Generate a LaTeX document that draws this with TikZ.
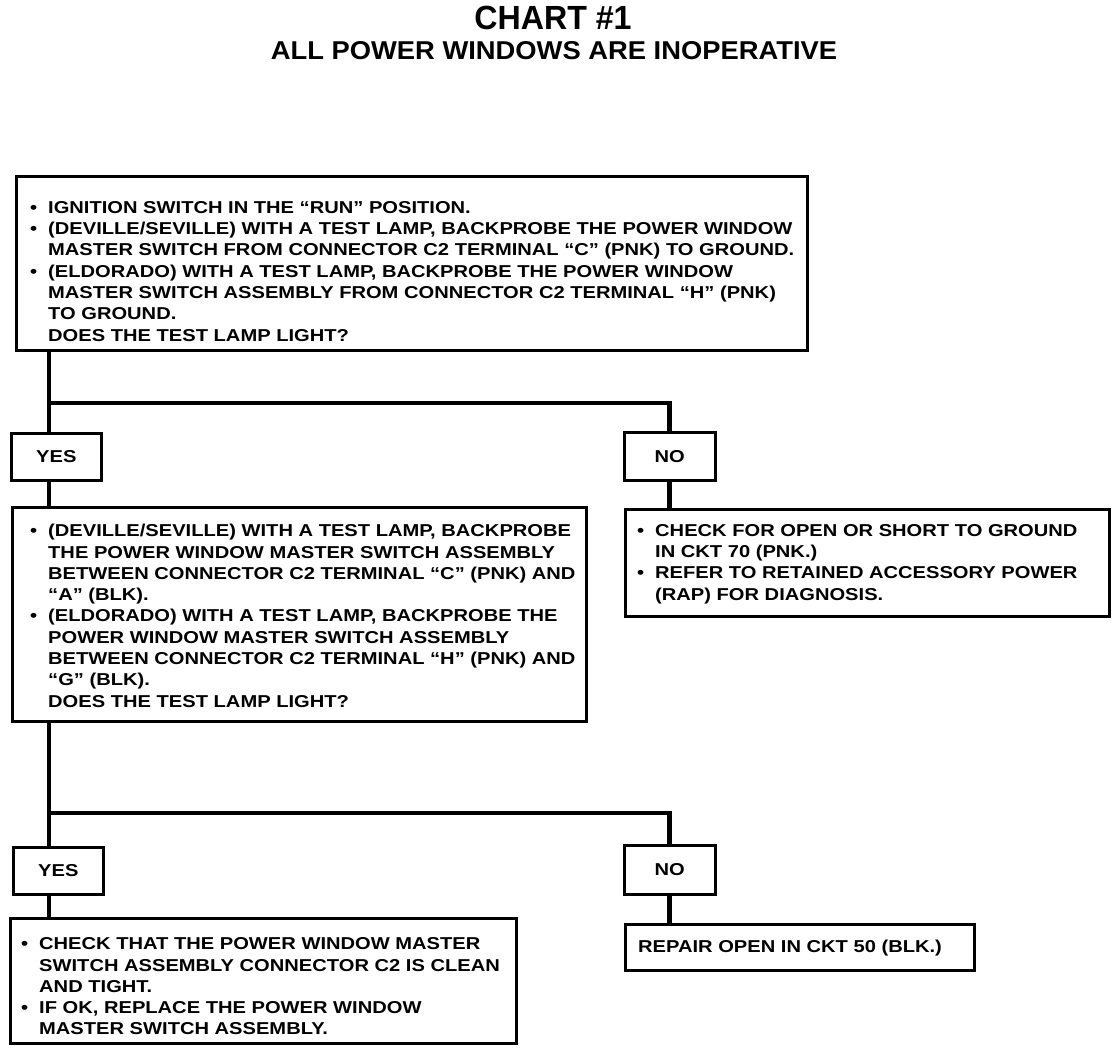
\documentclass[tikz,border=0pt]{standalone}
\usepackage{fontspec}
\newfontfamily\bodyfont{Liberation Sans}[FakeStretch=1.17]
\newfontfamily\titlefont{Liberation Sans}[FakeStretch=0.96]
\newfontfamily\subtitlefont{Liberation Sans}[FakeStretch=1.06]
\newcommand{\bul}{\llap{\makebox[18pt][l]{•}}}
\newcommand{\fs}{\rule{0pt}{15pt}}
\begin{document}
\begin{tikzpicture}[x=1pt,y=-1pt,
  chartbox/.style={draw=black,line width=2.6pt,rectangle,inner sep=0pt,anchor=north west},
  conn/.style={draw=black,line width=4.8pt},
  txt/.style={anchor=north west,inner sep=0pt,align=left,
    font={\bodyfont\bfseries\fontsize{17.2}{21.3}\selectfont}},
  lbl/.style={font={\bodyfont\bfseries\fontsize{17.2}{21.3}\selectfont},inner sep=0pt}]
\useasboundingbox (0,0) rectangle (1120,1052);

% titles
\node[anchor=base,inner sep=0pt,font={\titlefont\bfseries\fontsize{33.5}{36}\selectfont}] (title) at (553,30) {CHART \#1};
\node[anchor=base,inner sep=0pt,font={\subtitlefont\bfseries\fontsize{25.8}{28}\selectfont}] (subtitle) at (554,59) {ALL POWER WINDOWS ARE INOPERATIVE};

% boxes
\node[chartbox,minimum width=791pt,minimum height=174pt] (b1) at (15,175) {};
\node[chartbox,minimum width=90pt,minimum height=47pt] (y1) at (10,432) {};
\node[chartbox,minimum width=91pt,minimum height=48pt] (n1) at (623,431) {};
\node[chartbox,minimum width=574pt,minimum height=214pt] (b2) at (11,506) {};
\node[chartbox,minimum width=484pt,minimum height=107pt] (b3) at (624,508) {};
\node[chartbox,minimum width=90pt,minimum height=47pt] (y2) at (12,846) {};
\node[chartbox,minimum width=91pt,minimum height=49pt] (n2) at (623,844) {};
\node[chartbox,minimum width=506pt,minimum height=125pt] (b4) at (9,917) {};
\node[chartbox,minimum width=349pt,minimum height=46pt] (b5) at (624,923) {};

% labels
\node[lbl] (y1t) at (y1.center) {YES};
\node[lbl] (n1t) at (n1.center) {NO};
\node[lbl] (y2t) at (y2.center) {YES};
\node[lbl] (n2t) at (n2.center) {NO};

% texts
\node[txt] (t1) at (48,198) {\fs\bul IGNITION SWITCH IN THE “RUN” POSITION.\\
\bul (DEVILLE/SEVILLE) WITH A TEST LAMP, BACKPROBE THE POWER WINDOW\\
MASTER SWITCH FROM CONNECTOR C2 TERMINAL “C” (PNK) TO GROUND.\\
\bul (ELDORADO) WITH A TEST LAMP, BACKPROBE THE POWER WINDOW\\
MASTER SWITCH ASSEMBLY FROM CONNECTOR C2 TERMINAL “H” (PNK)\\
TO GROUND.\\
DOES THE TEST LAMP LIGHT?};

\node[txt] (t2) at (48,521.5) {\fs\bul (DEVILLE/SEVILLE) WITH A TEST LAMP, BACKPROBE\\
THE POWER WINDOW MASTER SWITCH ASSEMBLY\\
BETWEEN CONNECTOR C2 TERMINAL “C” (PNK) AND\\
“A” (BLK).\\
\bul (ELDORADO) WITH A TEST LAMP, BACKPROBE THE\\
POWER WINDOW MASTER SWITCH ASSEMBLY\\
BETWEEN CONNECTOR C2 TERMINAL “H” (PNK) AND\\
“G” (BLK).\\
DOES THE TEST LAMP LIGHT?};

\node[txt] (t3) at (655,521) {\fs\bul CHECK FOR OPEN OR SHORT TO GROUND\\
IN CKT 70 (PNK.)\\
\bul REFER TO RETAINED ACCESSORY POWER\\
(RAP) FOR DIAGNOSIS.};

\node[txt] (t4) at (39,934.5) {\fs\bul CHECK THAT THE POWER WINDOW MASTER\\
SWITCH ASSEMBLY CONNECTOR C2 IS CLEAN\\
AND TIGHT.\\
\bul IF OK, REPLACE THE POWER WINDOW\\
MASTER SWITCH ASSEMBLY.};

\node[txt] (t5) at (638,937) {\fs REPAIR OPEN IN CKT 50 (BLK.)};

% connectors
\coordinate (j1) at (49,403);
\coordinate (j2) at (49,813);
\draw[conn] (b1.south -| j1) -- (y1.north -| j1);
\draw[conn] (j1) -| (n1.north);
\draw[conn] (y1.south -| j1) -- (b2.north -| j1);
\draw[conn] (n1.south) -- (b3.north -| n1.south);
\draw[conn] (b2.south -| j2) -- (y2.north -| j2);
\draw[conn] (j2) -| (n2.north);
\draw[conn] (y2.south -| j2) -- (b4.north -| j2);
\draw[conn] (n2.south) -- (b5.north -| n2.south);
\end{tikzpicture}
\end{document}
